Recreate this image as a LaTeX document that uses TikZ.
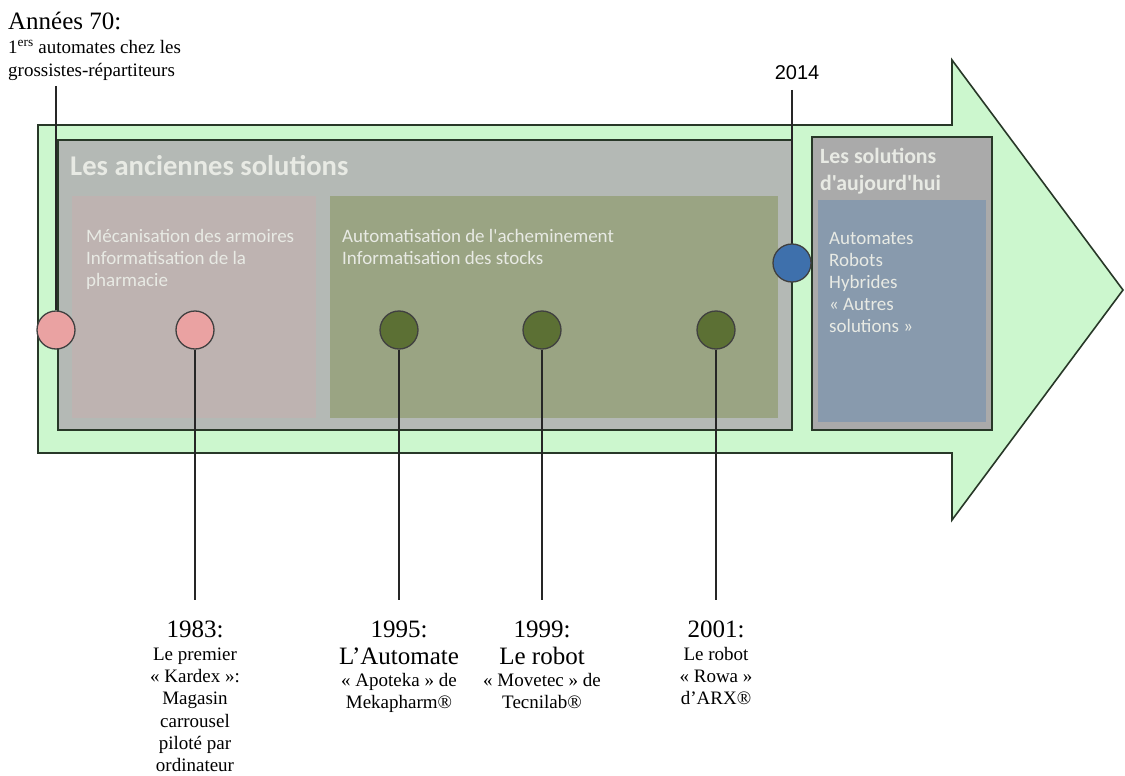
\documentclass[tikz,border=0pt]{standalone}
\usepackage{fontspec}
\setmainfont{Liberation Serif}
\newfontfamily\boxfont{Carlito}
\newfontfamily\yearfont{Liberation Sans}

\definecolor{arrowgreen}{RGB}{204,247,206}
\definecolor{framedark}{RGB}{40,56,40}
\definecolor{oldgray}{RGB}{180,185,181}
\definecolor{mecapink}{RGB}{190,179,177}
\definecolor{autogreen}{RGB}{154,164,131}
\definecolor{todaygray}{RGB}{170,170,170}
\definecolor{todayblue}{RGB}{136,154,173}
\definecolor{boxwhite}{RGB}{232,234,228}
\definecolor{dotpink}{RGB}{234,162,162}
\definecolor{dotgreen}{RGB}{92,112,52}
\definecolor{dotblue}{RGB}{62,112,172}

\begin{document}
\begin{tikzpicture}[x=1pt,y=-1pt,
    frame/.style={draw=framedark,line width=1.6pt},
    dot/.style={circle,draw=black!75,line width=1.3pt,minimum size=38pt,inner sep=0pt},
    stem/.style={line width=1.7pt,black!85},
    datelabel/.style={anchor=north,align=center,inner sep=0pt,font=\fontsize{19}{22.3}\selectfont},
    boxtext/.style={anchor=north west,align=left,inner sep=0pt,text=boxwhite,
        font=\boxfont\fontsize{19}{22}\selectfont}]
    \useasboundingbox (0,0) rectangle (1125,776);

    % big arrow
    \draw[frame,fill=arrowgreen] (38,125) -- (952,125) -- (952,60) -- (1123,290)
        -- (952,520) -- (952,453) -- (38,453) -- cycle;

    % old solutions
    \draw[frame,fill=oldgray] (58,140) rectangle (792,430);
    \fill[mecapink] (72,196) rectangle (316,418);
    \fill[autogreen] (330,196) rectangle (778,418);
    \node[anchor=west,inner sep=0pt,text=boxwhite,font=\boxfont\bfseries\fontsize{28.6}{30}\selectfont]
        (old) at (70,166) {Les anciennes solutions};
    \node[boxtext] (meca) at (86,229) {Mécanisation des armoires\\Informatisation de la\\pharmacie};
    \node[boxtext] (auto) at (342,229) {Automatisation de l'acheminement\\Informatisation des stocks};

    % today
    \draw[frame,fill=todaygray] (812,137) rectangle (992,430);
    \fill[todayblue] (818,200) rectangle (986,422);
    \node[anchor=north west,align=left,inner sep=0pt,text=boxwhite,
        font=\boxfont\bfseries\fontsize{21.8}{27}\selectfont]
        (today) at (820,148) {Les solutions\\d'aujourd'hui};
    \node[boxtext] (todaylist) at (829,232) {Automates\\Robots\\Hybrides\\« Autres\\solutions »};

    % dots
    \node[dot,fill=dotpink] (c70) at (56,330) {};
    \node[dot,fill=dotpink] (c83) at (195,330) {};
    \node[dot,fill=dotgreen] (c95) at (399,330) {};
    \node[dot,fill=dotgreen] (c99) at (542,330) {};
    \node[dot,fill=dotgreen] (c01) at (716,330) {};
    \node[dot,fill=dotblue] (c14) at (792,263) {};

    % labels above
    \node[anchor=north west,align=left,inner sep=0pt,font=\fontsize{19}{23.5}\selectfont]
        (l70) at (8,12) {{\fontsize{25}{25}\selectfont Années 70:}\\1\textsuperscript{ers} automates chez les\\grossistes-répartiteurs};
    \node[font=\yearfont\fontsize{20}{22}\selectfont] (l14) at (797,73) {2014};
    \coordinate (t70) at (56,86);
    \coordinate (t14) at (792,90);
    \draw[stem] (t70) -- (c70.north);
    \draw[stem] (t14) -- (c14.north);

    % labels below
    \node[datelabel] (l83) at (195,621) {{\fontsize{25}{25}\selectfont 1983:}\\Le premier\\« Kardex »:\\Magasin\\carrousel\\piloté par\\ordinateur};
    \node[datelabel] (l95) at (399,621) {{\fontsize{25}{25}\selectfont 1995:}\\[4pt]{\fontsize{25}{25}\selectfont L'Automate}\\« Apoteka » de\\Mekapharm®};
    \node[datelabel] (l99) at (542,621) {{\fontsize{25}{25}\selectfont 1999:}\\[4pt]{\fontsize{25}{25}\selectfont Le robot}\\« Movetec » de\\Tecnilab®};
    \node[datelabel] (l01) at (716,621) {{\fontsize{25}{25}\selectfont 2001:}\\Le robot\\« Rowa »\\d'ARX®};
    \foreach \d in {83,95,99,01} {
        \coordinate (b\d) at ([yshift=21pt]l\d.north);
        \draw[stem] (c\d.south) -- (b\d);
    }
\end{tikzpicture}
\end{document}
